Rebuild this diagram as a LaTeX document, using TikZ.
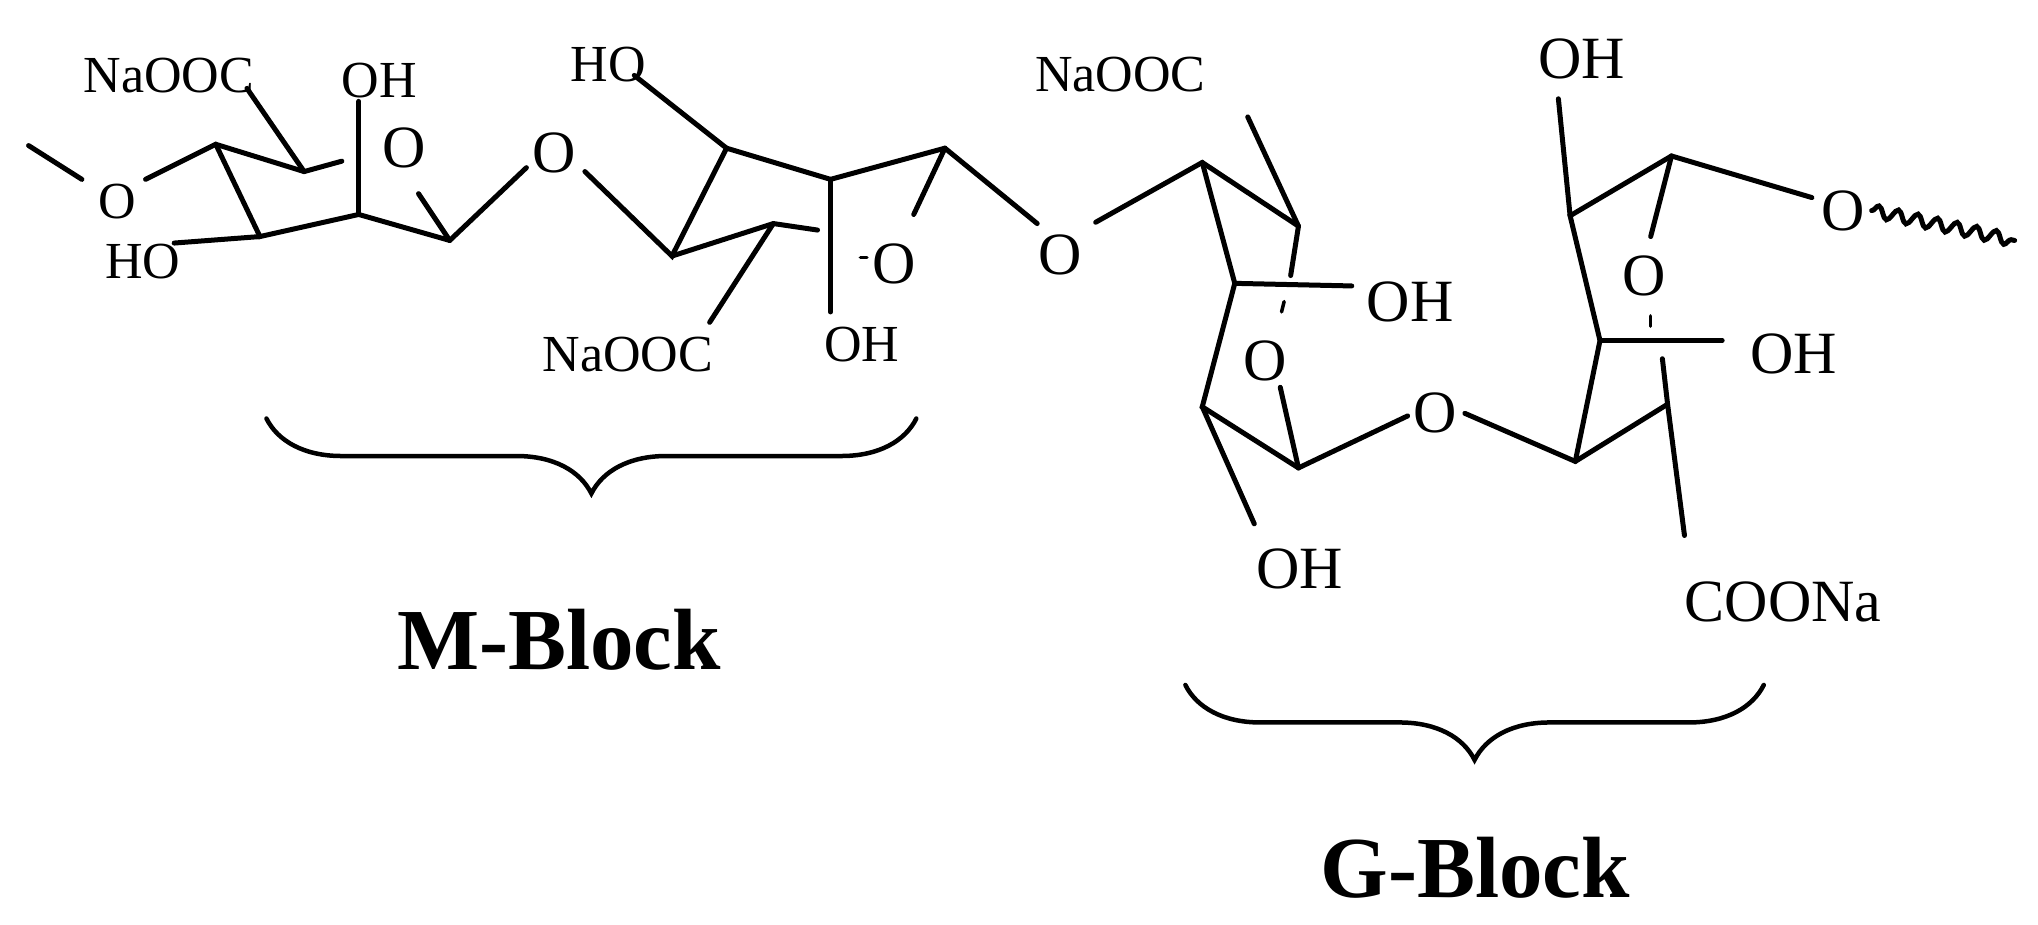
\documentclass[tikz,border=0pt]{standalone}
\usepackage{fontspec}
\setmainfont{Liberation Serif}
\usetikzlibrary{decorations.pathreplacing,decorations.pathmorphing}
\begin{document}
\begin{tikzpicture}[x=1.3pt,y=-1.3pt,line width=5pt,line cap=round,
  lab/.style={inner sep=0pt,font=\fontsize{60}{60}\selectfont},
  labs/.style={inner sep=0pt,font=\fontsize{52}{52}\selectfont},
  blk/.style={inner sep=0pt,font=\fontsize{87}{87}\selectfont\bfseries},
  brc/.style={decorate,decoration={brace,amplitude=75pt},line width=4.5pt}]
\useasboundingbox (0,0) rectangle (1568,711);
% ---------- ring M1
\coordinate (l0) at (22,112);
\node[labs] (o1) at (90,155) {O};
\coordinate (a1) at (166,111);
\coordinate (a2) at (234,132);
\coordinate (a2s) at (263,124);
\coordinate (a3) at (276,165);
\coordinate (a4) at (346,185);
\coordinate (a5) at (200,182);
\node[lab] (r1) at (311,114) {O};
\node[labs] (na1) at (130,58) {NaOOC};
\node[labs] (oh1) at (292,62) {OH};
\node[labs] (ho1) at (110,201) {HO};
\draw (l0) -- (63,138);
\draw (112,138) -- (a1) -- (a2) -- (a2s);
\draw (a1) -- (a5) -- (a3) -- (a4);
\draw (190,68) -- (a2);
\draw (276,78) -- (a3);
\draw (134,187) -- (a5);
\draw (322,149) -- (a4);
% glycosidic O 1
\node[lab] (g1) at (426,118) {O};
\draw (a4) -- (405,129);
% ---------- ring M2
\coordinate (b1) at (517,197);
\coordinate (b2) at (559,114);
\coordinate (b3) at (639,138);
\coordinate (b4) at (727,114);
\coordinate (b5) at (595,172);
\coordinate (b5s) at (629,177);
\node[labs] (ho2) at (468,50) {HO};
\node[labs] (na2) at (483,273) {NaOOC};
\node[labs] (oh2) at (663,265) {OH};
\node[lab] (r2) at (688,203) {O};
\draw (450,132) -- (b1) -- (b2) -- (b3) -- (b4);
\draw (488,58) -- (b2);
\draw (b3) -- (639,240);
\draw (b4) -- (703,165);
\draw (b1) -- (b5) -- (b5s);
\draw (b5) -- (546,248);
\draw[line width=3.5pt] (662,198) -- (667,198);
% glycosidic O 2
\node[lab] (g2) at (816,196) {O};
\draw (b4) -- (798,172);
% ---------- ring G1
\coordinate (c1) at (925,125);
\coordinate (c2) at (999,174);
\coordinate (c3) at (950,218);
\coordinate (c4) at (925,313);
\coordinate (c5) at (999,360);
\node[labs] (na3) at (862,57) {NaOOC};
\node[lab] (oh3) at (1085,232) {OH};
\node[lab] (r3) at (973,278) {O};
\node[lab] (oh4) at (1000,438) {OH};
\draw (843,171) -- (c1) -- (c2);
\draw (960,90) -- (c2);
\draw (c2) -- (993,212);
\draw[line width=3.5pt] (988,232) -- (986,240);
\draw (c1) -- (c3) -- (c4) -- (c5);
\draw (c3) -- (1040,220);
\draw (985,298) -- (c5);
\draw (c4) -- (965,403);
% glycosidic O 3
\node[lab] (g3) at (1104,318) {O};
\draw (c5) -- (1083,320);
% ---------- ring G2
\coordinate (d1) at (1212,355);
\coordinate (d2) at (1283,311);
\coordinate (d3) at (1231,262);
\coordinate (d4) at (1208,166);
\coordinate (d5) at (1286,120);
\node[lab] (oh5) at (1217,45) {OH};
\node[lab] (oh6) at (1380,272) {OH};
\node[lab] (r4) at (1265,212) {O};
\node[lab] (coo) at (1372,463) {COONa};
\node[lab] (o5) at (1418,162) {O};
\draw (1127,318) -- (d1) -- (d2);
\draw (d1) -- (d3) -- (d4) -- (d5) -- (1394,152);
\draw (d4) -- (1199,76);
\draw (d5) -- (1270,182);
\draw[line width=3.5pt] (1270,243) -- (1270,251);
\draw (d3) -- (1325,262);
\draw (1279,276) -- (d2);
\draw (d2) -- (1296,412);
\draw[decorate,decoration={snake,amplitude=6pt,segment length=20pt}] (1440,162) -- (1550,185);
% ---------- braces
\coordinate (m0) at (205,322);
\coordinate (m1) at (705,322);
\draw[brc] (m1) -- (m0);
\node[blk] (mb) at (430,492) {M-Block};
\coordinate (n0) at (912,527);
\coordinate (n1) at (1357,527);
\draw[brc] (n1) -- (n0);
\node[blk] (gb) at (1135,668) {G-Block};
\end{tikzpicture}
\end{document}
